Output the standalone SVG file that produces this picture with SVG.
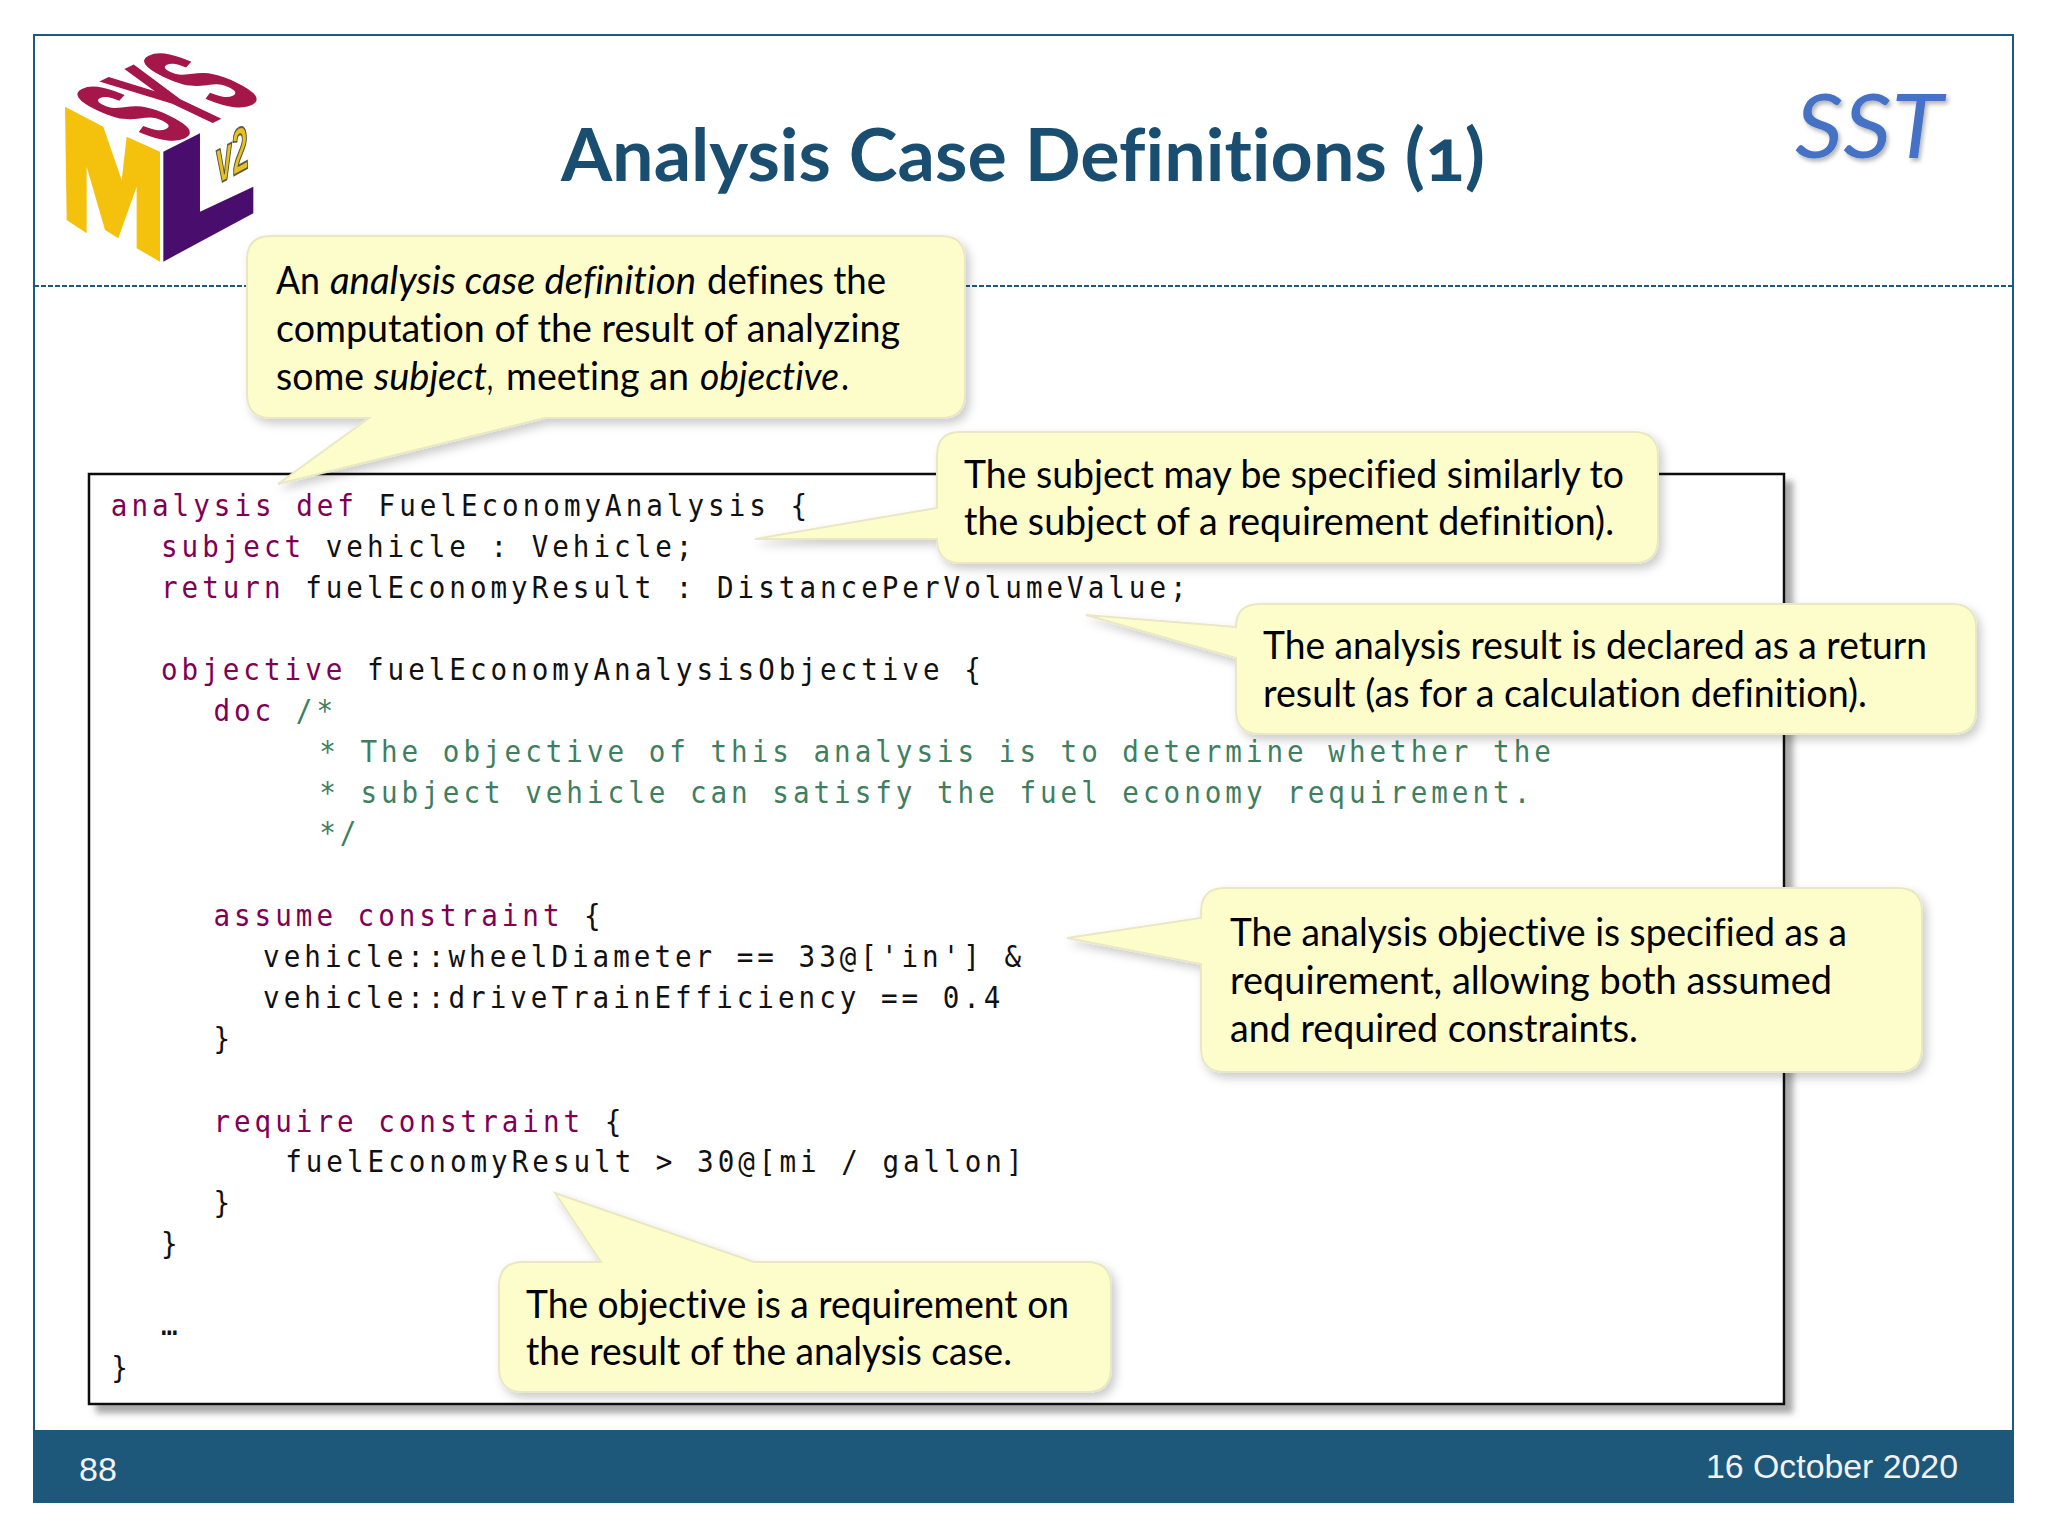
<svg xmlns="http://www.w3.org/2000/svg" width="2048" height="1536" viewBox="0 0 2048 1536">
<style>
.code{font-family:"DejaVu Sans Mono","Liberation Mono",monospace;font-size:30px;letter-spacing:4.33px;fill:#111;white-space:pre}
.kw{fill:#7f0055}
.cm{fill:#3f7f5f}
.note{font-family:Lato,"Noto Sans",sans-serif;font-size:38px;fill:#000;font-variant-ligatures:none}
.it{font-style:italic}
.bubble{fill:#fdfdcc;stroke:#e9e7c4;stroke-width:2;filter:url(#sh)}
.foot{font-family:"Liberation Sans",Arial,sans-serif;font-size:34px;fill:#f2f2f2}
</style>
<defs>
<filter id="sh" x="-10%" y="-10%" width="125%" height="130%"><feDropShadow dx="4" dy="5" stdDeviation="5" flood-color="#000" flood-opacity="0.2"/></filter>
<filter id="boxsh" x="-3%" y="-3%" width="106%" height="106%"><feDropShadow dx="8" dy="8" stdDeviation="3" flood-color="#555" flood-opacity="0.5"/></filter>
<filter id="tsh" x="-10%" y="-10%" width="120%" height="130%"><feDropShadow dx="2" dy="3" stdDeviation="2" flood-color="#000" flood-opacity="0.3"/></filter>
<filter id="soft" x="-5%" y="-5%" width="110%" height="110%"><feGaussianBlur stdDeviation="2"/></filter>
</defs>
<rect width="2048" height="1536" fill="#fff"/>
<g id="frame">
<rect x="34" y="35" width="1979" height="1467" fill="#fff" stroke="#1f5a7d" stroke-width="2"/>
<line x1="34" y1="286" x2="2013" y2="286" stroke="#1f5a7d" stroke-width="2" stroke-dasharray="5 2"/>
<rect x="34" y="1430" width="1979" height="72" fill="#1d587b"/>
</g>
<g id="logo" transform="translate(40 30) scale(.3333)" filter="url(#soft)">
<polygon points="75,230 190,290 245,450 260,320 360,365 360,695 290,655 290,470 235,625 195,600 140,410 140,610 80,570" fill="#f4c20d"/>
<polygon points="370,365 480,310 480,545 640,470 640,550 370,695" fill="#4a0e6e"/>
<text transform="matrix(1.5 -.75 4.2 2 375 345)" font-family="Liberation Sans,sans-serif" font-weight="700" font-size="100" fill="#a5144a" stroke="#a5144a" stroke-width="3">SYS</text>
<text transform="matrix(.66 -.36 .16 1.4 535 462)" font-family="Liberation Sans,sans-serif" font-weight="700" font-style="italic" font-size="130" fill="#e8c020" stroke="#5a5a40" stroke-width="4">v2</text>
</g>
<g id="title"><text x="561" y="181" font-family="Lato,sans-serif" font-weight="700" font-size="72" fill="#1a4e70" textLength="924" lengthAdjust="spacingAndGlyphs" style="font-variant-numeric:oldstyle-nums;font-variant-ligatures:none">Analysis Case Definitions (1)</text></g>
<g id="sst"><text x="1795" y="158" font-family="Lato,sans-serif" font-style="italic" font-size="90" fill="#4472c4" filter="url(#tsh)" textLength="148" lengthAdjust="spacingAndGlyphs">SST</text></g>
<g id="footer">
<text class="foot" x="79" y="1481">88</text>
<text class="foot" x="1706" y="1478" textLength="252" lengthAdjust="spacingAndGlyphs">16 October 2020</text>
</g>
<g id="code-box">
<rect x="89" y="474" width="1695" height="930" fill="#fff" stroke="#111" stroke-width="2.5" filter="url(#boxsh)"/>
<g transform="scale(.92 1)">
<text class="code" x="120.5" y="516"><tspan class="kw">analysis def</tspan> FuelEconomyAnalysis {</text>
<text class="code" x="175" y="557"><tspan class="kw">subject</tspan> vehicle : Vehicle;</text>
<text class="code" x="175" y="598"><tspan class="kw">return</tspan> fuelEconomyResult : DistancePerVolumeValue;</text>
<text class="code" x="175" y="680"><tspan class="kw">objective</tspan> fuelEconomyAnalysisObjective {</text>
<text class="code" x="232" y="721"><tspan class="kw">doc</tspan> <tspan class="cm">/*</tspan></text>
<text class="code cm" x="347" y="762">* The objective of this analysis is to determine whether the</text>
<text class="code cm" x="347" y="803">* subject vehicle can satisfy the fuel economy requirement.</text>
<text class="code cm" x="347" y="843">*/</text>
<text class="code" x="232" y="926"><tspan class="kw">assume constraint</tspan> {</text>
<text class="code" x="286" y="967">vehicle::wheelDiameter == 33@['in'] &amp;</text>
<text class="code" x="286" y="1008">vehicle::driveTrainEfficiency == 0.4</text>
<text class="code" x="232" y="1049">}</text>
<text class="code" x="232" y="1132"><tspan class="kw">require constraint</tspan> {</text>
<text class="code" x="310" y="1172">fuelEconomyResult &gt; 30@[mi / gallon]</text>
<text class="code" x="232" y="1213">}</text>
<text class="code" x="175" y="1254">}</text>
<text class="code" x="175" y="1335">…</text>
<text class="code" x="121" y="1378">}</text>
</g>
</g>
<g id="connectors"></g>
<g id="note-definition">
<path class="bubble" d="M271,236 H941 Q965,236 965,260 V394 Q965,418 941,418 H545 L278,484 L369,418 H271 Q247,418 247,394 V260 Q247,236 271,236 Z"/>
<text class="note" y="294"><tspan x="276" textLength="44" lengthAdjust="spacingAndGlyphs">An</tspan><tspan class="it" x="330" textLength="366" lengthAdjust="spacingAndGlyphs">analysis case definition</tspan><tspan x="707" textLength="179" lengthAdjust="spacingAndGlyphs">defines the</tspan></text>
<text class="note" x="276" y="342" textLength="624" lengthAdjust="spacingAndGlyphs">computation of the result of analyzing</text>
<text class="note" y="390"><tspan x="276" textLength="88" lengthAdjust="spacingAndGlyphs">some</tspan><tspan class="it" x="374" textLength="113" lengthAdjust="spacingAndGlyphs">subject</tspan><tspan x="487" textLength="6" lengthAdjust="spacingAndGlyphs">,</tspan><tspan x="506" textLength="183" lengthAdjust="spacingAndGlyphs">meeting an</tspan><tspan class="it" x="700" textLength="139" lengthAdjust="spacingAndGlyphs">objective</tspan><tspan x="841" textLength="8" lengthAdjust="spacingAndGlyphs">.</tspan></text>
</g>
<g id="note-subject">
<path class="bubble" d="M960,432 H1634 Q1658,432 1658,456 V539 Q1658,563 1634,563 H960 Q937,563 937,539 L755,539 L937,508 V456 Q937,432 960,432 Z"/>
<text class="note" x="964" y="488" textLength="660" lengthAdjust="spacingAndGlyphs">The subject may be specified similarly to</text>
<text class="note" x="964" y="535" textLength="650" lengthAdjust="spacingAndGlyphs">the subject of a requirement definition).</text>
</g>
<g id="note-result">
<path class="bubble" d="M1260,604 H1952 Q1976,604 1976,628 V710 Q1976,734 1952,734 H1260 Q1236,734 1236,710 V658 L1086,615 L1236,627 Q1236,604 1260,604 Z"/>
<text class="note" x="1263" y="659" textLength="664" lengthAdjust="spacingAndGlyphs">The analysis result is declared as a return</text>
<text class="note" x="1263" y="707" textLength="604" lengthAdjust="spacingAndGlyphs">result (as for a calculation definition).</text>
</g>
<g id="note-objective">
<path class="bubble" d="M1225,888 H1898 Q1922,888 1922,912 V1048 Q1922,1072 1898,1072 H1225 Q1201,1072 1201,1048 V964 L1067,938 L1201,918 V912 Q1201,888 1225,888 Z"/>
<text class="note" x="1230" y="946" textLength="617" lengthAdjust="spacingAndGlyphs">The analysis objective is specified as a</text>
<text class="note" x="1230" y="994" textLength="602" lengthAdjust="spacingAndGlyphs">requirement, allowing both assumed</text>
<text class="note" x="1230" y="1042" textLength="408" lengthAdjust="spacingAndGlyphs">and required constraints.</text>
</g>
<g id="note-requirement">
<path class="bubble" d="M523,1262 H601 L555,1193 L754,1262 H1087 Q1111,1262 1111,1286 V1368 Q1111,1392 1087,1392 H523 Q499,1392 499,1368 V1286 Q499,1262 523,1262 Z"/>
<text class="note" x="526" y="1318" textLength="543" lengthAdjust="spacingAndGlyphs">The objective is a requirement on</text>
<text class="note" x="526" y="1365" textLength="486" lengthAdjust="spacingAndGlyphs">the result of the analysis case.</text>
</g>
</svg>
